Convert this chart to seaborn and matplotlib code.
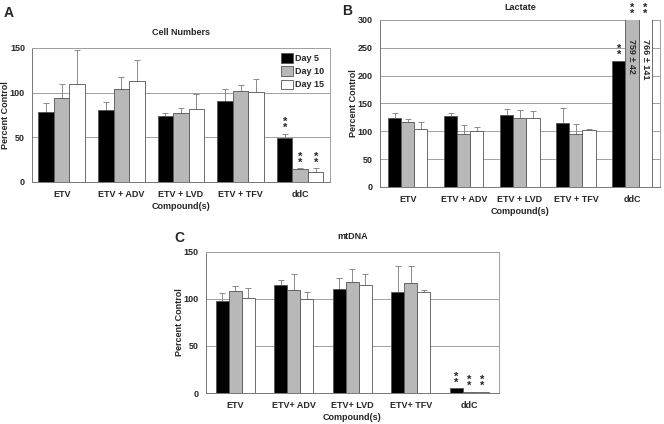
import matplotlib
matplotlib.use("Agg")
import matplotlib.pyplot as plt
import numpy as np
import pandas as pd
import seaborn as sns

days = ["Day 5", "Day 10", "Day 15"]
compounds_ab = ["ETV", "ETV + ADV", "ETV + LVD", "ETV + TFV", "ddC"]
compounds_c = ["ETV", "ETV+ ADV", "ETV+ LVD", "ETV+ TFV", "ddC"]

# Cell numbers (percent control)
cell_day5 = [78, 80, 74, 91, 49]
cell_day10 = [94, 104, 77, 102, 14]
cell_day15 = [110, 113, 82, 101, 11]
cell_day5_err = [10, 9, 3, 13, 5]
cell_day10_err = [16, 13, 6, 6, 1]
cell_day15_err = [38, 23, 16, 14, 4]

# Lactate (percent control)
lac_day5 = [124, 127, 129, 115, 227]
lac_day10 = [116, 95, 124, 95, 759]
lac_day15 = [104, 100, 124, 102, 766]
lac_day5_err = [9, 6, 11, 27, 0]
lac_day10_err = [6, 16, 14, 18, 42]
lac_day15_err = [12, 8, 13, 2, 141]

# mtDNA (percent control)
mt_day5 = [98, 115, 111, 107, 5]
mt_day10 = [108, 110, 118, 117, 1]
mt_day15 = [101, 100, 115, 107, 1]
mt_day5_err = [8, 5, 11, 28, 0]
mt_day10_err = [6, 17, 14, 18, 0]
mt_day15_err = [11, 7, 11, 2, 0]

COLORS = ["black", "#b8b8b8", "white"]
EDGE = "#555555"
GRID = "#a0a0a0"


def make_frame(compounds, d5, d10, d15):
    rows = []
    for day, vals in zip(days, [d5, d10, d15]):
        for c, v in zip(compounds, vals):
            rows.append({"compound": c, "day": day, "value": v})
    return pd.DataFrame(rows)


def draw_panel(ax, compounds, series, errors, ymax, step, width, title, legend=False, title_pad=9):
    df = make_frame(compounds, *series)
    sns.barplot(data=df, x="compound", y="value", hue="day", palette=COLORS,
                width=width, edgecolor=EDGE, linewidth=0.6, ax=ax,
                legend=legend, saturation=1, zorder=3)
    bar_containers = list(ax.containers)
    for cont, errs in zip(bar_containers, errors):
        xs, ys, es = [], [], []
        for bar, e in zip(cont.patches, errs):
            h = bar.get_height()
            if e > 0 and h < ymax:
                xs.append(bar.get_x() + bar.get_width() / 2)
                ys.append(h)
                es.append(e)
        if xs:
            ax.errorbar(xs, ys, yerr=[np.zeros(len(es)), es], fmt="none",
                        ecolor="#8a8a8a", elinewidth=0.7, capsize=2, capthick=0.7, zorder=2)
    ax.set_ylim(0, ymax)
    ax.set_xlim(-0.5, len(compounds) - 0.5)
    ax.set_yticks(np.arange(0, ymax + 1, step))
    ax.yaxis.grid(True, color=GRID, linewidth=0.7, zorder=0)
    ax.set_axisbelow(True)
    for s in ax.spines.values():
        s.set_visible(True)
        s.set_color(GRID)
        s.set_linewidth(0.7)
    ax.spines["left"].set_color("#777777")
    ax.spines["bottom"].set_color("#777777")
    ax.tick_params(axis="y", length=3, width=0.6, color="#777777", labelsize=6.5, pad=2)
    ax.tick_params(axis="x", which="major", length=0, labelsize=6.5, pad=6)
    ax.set_xticks(np.arange(0.5, len(compounds) - 0.5), minor=True)
    ax.tick_params(axis="x", which="minor", length=3, width=0.6, color="#777777")
    for lab in ax.get_xticklabels() + ax.get_yticklabels():
        lab.set_fontweight("bold")
    ax.set_title(title, fontsize=6.5, fontweight="bold", pad=title_pad)
    ax.set_xlabel("Compound(s)", fontsize=6.5, fontweight="bold", labelpad=2)
    ax.set_ylabel("Percent Control", fontsize=6.5, fontweight="bold", labelpad=0)
    return bar_containers


def stars(ax, bar, y):
    x = bar.get_x() + bar.get_width() / 2
    ax.text(x, y, "*\n*", ha="center", va="bottom", fontsize=8, fontweight="bold",
            linespacing=0.5, clip_on=False, zorder=5)


sns.set_style("white")
plt.rcParams["font.family"] = ["Liberation Sans", "DejaVu Sans"]

fig = plt.figure(figsize=(6.64, 4.24), dpi=100)
ax_a = fig.add_axes([0.048, 0.571, 0.449, 0.316])
ax_b = fig.add_axes([0.572, 0.559, 0.422, 0.394])
ax_c = fig.add_axes([0.310, 0.073, 0.441, 0.333])

# Panel A
cont_a = draw_panel(ax_a, compounds_ab, [cell_day5, cell_day10, cell_day15],
                    [cell_day5_err, cell_day10_err, cell_day15_err], 150, 50, 0.78,
                    "Cell Numbers", legend=True)
leg = ax_a.legend(loc="upper right", frameon=False, fontsize=6.5, handlelength=1.3,
                  handleheight=1.3, handletextpad=0.3, labelspacing=0.35,
                  borderaxespad=0.2)
for t in leg.get_texts():
    t.set_fontweight("bold")
for c, e in zip(cont_a, [cell_day5_err, cell_day10_err, cell_day15_err]):
    bar = c.patches[4]
    stars(ax_a, bar, bar.get_height() + e[4] + 1)

# Panel B
cont_b = draw_panel(ax_b, compounds_ab, [lac_day5, lac_day10, lac_day15],
                    [lac_day5_err, lac_day10_err, lac_day15_err], 300, 50, 0.7, "Lactate",
                    title_pad=7)
b5, b10, b15 = [c.patches[4] for c in cont_b]
stars(ax_b, b5, lac_day5[4] + 2)
stars(ax_b, b10, 302)
stars(ax_b, b15, 302)
for bar, val, err in [(b10, lac_day10[4], lac_day10_err[4]), (b15, lac_day15[4], lac_day15_err[4])]:
    ax_b.text(bar.get_x() + bar.get_width() / 2, 266, f"{val} \u00b1 {err}", rotation=-90,
              ha="center", va="top", fontsize=6.5, fontweight="bold", zorder=5)

# Panel C
cont_c = draw_panel(ax_c, compounds_c, [mt_day5, mt_day10, mt_day15],
                    [mt_day5_err, mt_day10_err, mt_day15_err], 150, 50, 0.67, "mtDNA")
c_bars = [c.patches[4] for c in cont_c]
stars(ax_c, c_bars[0], mt_day5[4] + 1)
stars(ax_c, c_bars[1], mt_day10[4] + 1)
stars(ax_c, c_bars[2], mt_day15[4] + 1)

fig.text(0.005, 0.985, "A", fontsize=10, fontweight="bold", va="top")
fig.text(0.516, 0.99, "B", fontsize=10, fontweight="bold", va="top")
fig.text(0.262, 0.455, "C", fontsize=10, fontweight="bold", va="top")

fig.savefig("out.png", dpi=100)
